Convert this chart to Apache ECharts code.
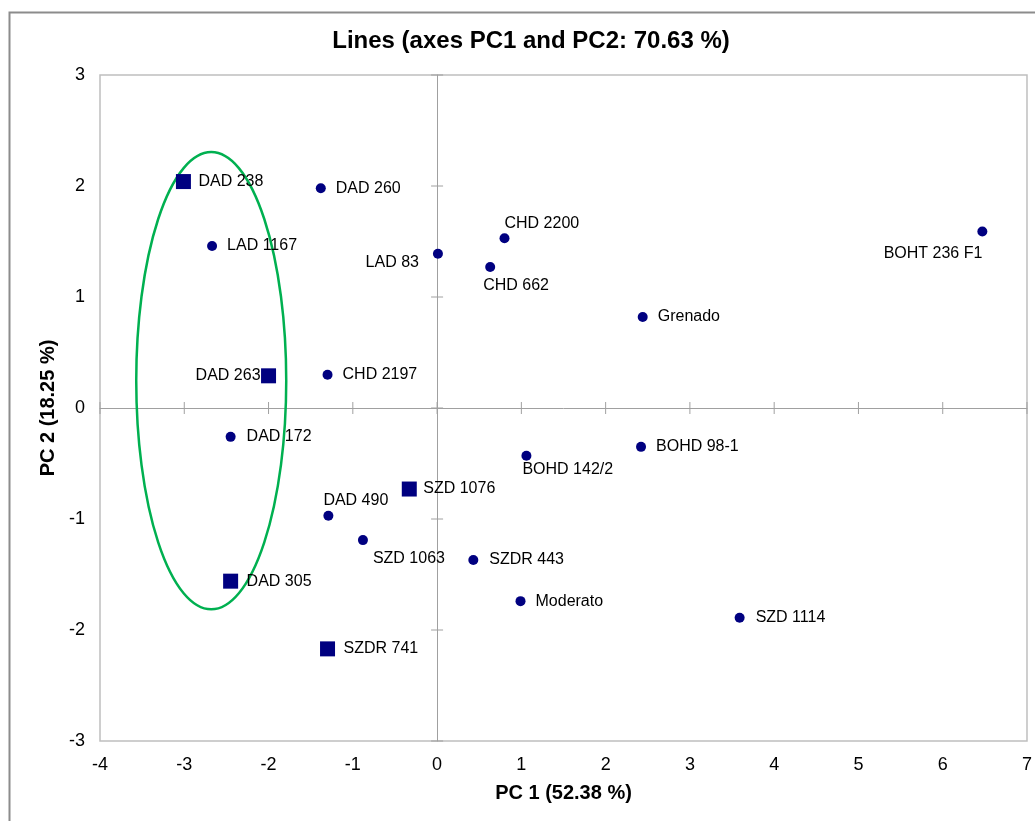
<!DOCTYPE html>
<html>
<head>
<meta charset="utf-8">
<script src="https://cdn.jsdelivr.net/npm/echarts@6/dist/echarts.min.js"></script>
<style>
html,body{margin:0;padding:0;background:#fff;}
#chart{width:1035px;height:821px;}
</style>
</head>
<body>
<div id="chart"></div>
<script>
// ---- data ----
const circleNames = ['DAD 260','LAD 1167','LAD 83','CHD 2200','CHD 662','Grenado','BOHT 236 F1','CHD 2197','DAD 172','BOHD 142/2','BOHD 98-1','DAD 490','SZD 1063','SZDR 443','Moderato','SZD 1114'];
const circlePC1 = [-1.38,-2.67,0.01,0.80,0.63,2.44,6.47,-1.30,-2.45,1.06,2.42,-1.29,-0.88,0.43,0.99,3.59];
const circlePC2 = [1.98,1.46,1.39,1.53,1.27,0.82,1.59,0.30,-0.26,-0.43,-0.35,-0.97,-1.19,-1.37,-1.74,-1.89];

const squareNames = ['DAD 238','DAD 263','SZD 1076','DAD 305','SZDR 741'];
const squarePC1 = [-3.01,-2.00,-0.33,-2.45,-1.30];
const squarePC2 = [2.04,0.29,-0.73,-1.56,-2.17];

const xTicks = [-4,-3,-2,-1,0,1,2,3,4,5,6,7];
const yTicks = [-3,-2,-1,0,1,2,3];

const ellipseCenter = [-2.68, 0.246];
const ellipseRadii = [0.89, 2.06];

// ---- label placement (style only) ----
const labelPlace = {
  'DAD 238':['left',15,0], 'DAD 260':['left',15,0], 'LAD 1167':['left',15,0],
  'LAD 83':['right',-19,9], 'CHD 2200':['left',0,-15], 'CHD 662':['left',-7,19],
  'Grenado':['left',15,0], 'BOHT 236 F1':['right',0,22], 'DAD 263':['right',-8,0],
  'CHD 2197':['left',15,0], 'DAD 172':['left',16,0], 'BOHD 142/2':['left',-4,14],
  'BOHD 98-1':['left',15,0], 'SZD 1076':['left',14,0], 'DAD 490':['left',-5,-15],
  'SZD 1063':['left',10,19], 'SZDR 443':['left',16,0], 'DAD 305':['left',16,0],
  'Moderato':['left',15,0], 'SZD 1114':['left',16,0], 'SZDR 741':['left',16,0]
};

const FONT = 'Liberation Sans, Arial, sans-serif';
const NAVY = '#000080';
const ZERO_COLOR = '#a0a0a0';

function buildPoints(names, xs, ys) {
  return names.map((n, i) => {
    const p = labelPlace[n] || ['left', 15, 0];
    return {
      name: n,
      value: [xs[i], ys[i]],
      label: {
        show: true, formatter: n, position: 'inside',
        align: p[0], verticalAlign: 'middle', offset: [p[1], p[2]],
        color: '#000', fontSize: 16, fontFamily: FONT
      }
    };
  });
}

// tick marks along the zero lines: [x, y, orientation(0 = on x line, 1 = on y line)]
const zeroTickData = xTicks.map(v => [v, 0, 0]).concat(yTicks.map(v => [0, v, 1]));

const xmin = xTicks[0], xmax = xTicks[xTicks.length - 1];
const ymin = yTicks[0], ymax = yTicks[yTicks.length - 1];
const zeroLine = {color: ZERO_COLOR, width: 1};

const chart = echarts.init(document.getElementById('chart'), null, {renderer: 'canvas'});
chart.setOption({
  animation: false,
  backgroundColor: '#fff',
  title: {
    text: 'Lines (axes PC1 and PC2: 70.63 %)',
    left: 531, top: 29, textAlign: 'center', padding: 0,
    textStyle: {fontFamily: FONT, fontSize: 24, fontWeight: 'bold', color: '#000'}
  },
  graphic: [{
    type: 'rect', left: 7, top: 10, silent: true,
    shape: {width: 1100, height: 900},
    style: {fill: 'none', stroke: '#8c8c8c', lineWidth: 2}
  }],
  grid: {left: 100, right: 7, top: 75, bottom: 80, show: true, borderColor: '#bfbfbf', borderWidth: 1.5, containLabel: false},
  xAxis: [
    {
      type: 'value', min: xmin, max: xmax, interval: 1, position: 'bottom',
      splitLine: {show: false},
      axisLine: {show: false, onZero: false}, axisTick: {show: false},
      axisLabel: {show: true, margin: 15, fontSize: 18, fontFamily: FONT, color: '#000'},
      name: 'PC 1 (52.38 %)', nameLocation: 'middle', nameGap: 42,
      nameTextStyle: {fontFamily: FONT, fontSize: 20, fontWeight: 'bold', color: '#000'}
    },
    {
      type: 'value', min: xmin, max: xmax, interval: 1, position: 'top',
      splitLine: {show: false},
      axisLine: {show: true, onZero: true, onZeroAxisIndex: 0, lineStyle: zeroLine},
      axisTick: {show: false}, axisLabel: {show: false}
    }
  ],
  yAxis: [
    {
      type: 'value', min: ymin, max: ymax, interval: 1, position: 'left',
      splitLine: {show: false},
      axisLine: {show: false, onZero: false}, axisTick: {show: false},
      axisLabel: {show: true, margin: 15, fontSize: 18, fontFamily: FONT, color: '#000'},
      name: 'PC 2 (18.25 %)', nameLocation: 'middle', nameGap: 40,
      nameTextStyle: {fontFamily: FONT, fontSize: 20, fontWeight: 'bold', color: '#000'}
    },
    {
      type: 'value', min: ymin, max: ymax, interval: 1, position: 'right',
      splitLine: {show: false},
      axisLine: {show: true, onZero: true, onZeroAxisIndex: 0, lineStyle: zeroLine},
      axisTick: {show: false}, axisLabel: {show: false}
    }
  ],
  series: [
    {
      type: 'custom', name: 'zeroTicks', xAxisIndex: 0, yAxisIndex: 0, silent: true, z: 1,
      data: zeroTickData,
      renderItem: function (params, api) {
        const c = api.coord([api.value(0), api.value(1)]);
        const onY = api.value(2) === 1;
        const h = 6;
        return {
          type: 'line',
          shape: onY ? {x1: c[0] - h, y1: c[1], x2: c[0] + h, y2: c[1]}
                     : {x1: c[0], y1: c[1] - h, x2: c[0], y2: c[1] + h},
          style: {stroke: ZERO_COLOR, lineWidth: 1}
        };
      }
    },
    {
      type: 'custom', name: 'group', xAxisIndex: 0, yAxisIndex: 0, silent: true, z: 2,
      data: [[ellipseCenter[0], ellipseCenter[1], ellipseRadii[0], ellipseRadii[1]]],
      renderItem: function (params, api) {
        const c = api.coord([api.value(0), api.value(1)]);
        const s = api.size([api.value(2), api.value(3)]);
        const rx = s[0], ry = s[1];
        const d = 'M' + (c[0] - rx) + ',' + c[1] +
          ' A' + rx + ',' + ry + ' 0 1,0 ' + (c[0] + rx) + ',' + c[1] +
          ' A' + rx + ',' + ry + ' 0 1,0 ' + (c[0] - rx) + ',' + c[1] + ' Z';
        return {
          type: 'path',
          shape: {pathData: d, x: c[0] - rx, y: c[1] - ry, width: 2 * rx, height: 2 * ry, layout: 'cover'},
          style: {fill: 'none', stroke: '#00b050', lineWidth: 2.5}
        };
      }
    },
    {
      type: 'scatter', name: 'lines', xAxisIndex: 0, yAxisIndex: 0, z: 3,
      symbol: 'circle', symbolSize: 10,
      itemStyle: {color: NAVY, opacity: 1},
      data: buildPoints(circleNames, circlePC1, circlePC2)
    },
    {
      type: 'scatter', name: 'selected', xAxisIndex: 0, yAxisIndex: 0, z: 3,
      symbol: 'rect', symbolSize: 15,
      itemStyle: {color: NAVY, opacity: 1},
      data: buildPoints(squareNames, squarePC1, squarePC2)
    }
  ]
});
</script>
</body>
</html>
